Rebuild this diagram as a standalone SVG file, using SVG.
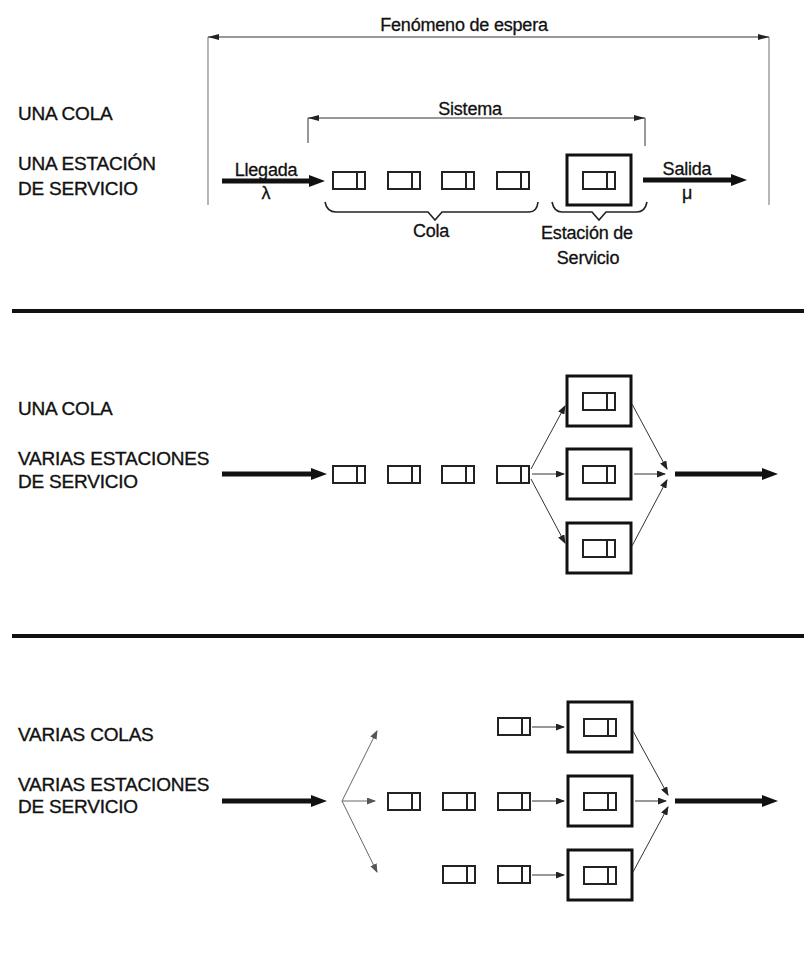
<svg xmlns="http://www.w3.org/2000/svg" width="804" height="959" viewBox="0 0 804 959">
<style>
  .lbl{font-family:"Liberation Sans",Arial,sans-serif;font-size:19px;fill:#111;stroke:#111;stroke-width:0.35;letter-spacing:-0.2px}
  .txt{font-family:"Liberation Sans",Arial,sans-serif;font-size:18px;fill:#111;stroke:#111;stroke-width:0.3;text-anchor:middle;letter-spacing:-0.2px}
  .q{fill:#fff;stroke:#222;stroke-width:2}
  .qd{stroke:#222;stroke-width:2}
  .srv{fill:#fff;stroke:#111;stroke-width:3}
  .thin{stroke:#333;stroke-width:1;fill:none}
  .faint{stroke:#666;stroke-width:1;fill:none}
  .thick{stroke:#111;stroke-width:5;fill:none}
  .dim{stroke:#333;stroke-width:1;fill:none}
  .guide{stroke:#888;stroke-width:1.2;fill:none}
  .brace{stroke:#222;stroke-width:1.6;fill:none}
  .sep{stroke:#111;stroke-width:4}
</style>
<defs>
  <marker id="ah" markerUnits="userSpaceOnUse" viewBox="0 0 9 7" refX="8" refY="3.5" markerWidth="9" markerHeight="7" orient="auto">
    <path d="M0,0 L9,3.5 L0,7 z" fill="#222"/>
  </marker>
  <marker id="ahf" markerUnits="userSpaceOnUse" viewBox="0 0 9 7" refX="8" refY="3.5" markerWidth="9" markerHeight="7" orient="auto">
    <path d="M0,0 L9,3.5 L0,7 z" fill="#555"/>
  </marker>
  <marker id="big" markerUnits="userSpaceOnUse" viewBox="0 0 16 12" refX="4" refY="6" markerWidth="16" markerHeight="12" orient="auto">
    <path d="M0,0 L16,6 L0,12 z" fill="#111"/>
  </marker>
  <marker id="da" markerUnits="userSpaceOnUse" viewBox="0 0 11 6" refX="11" refY="3" markerWidth="11" markerHeight="6" orient="auto-start-reverse">
    <path d="M0,0 L11,3 L0,6 z" fill="#222"/>
  </marker>
</defs>

<!-- Section 1 labels -->
<g id="labels1">
  <text class="lbl" x="18" y="120">UNA COLA</text>
  <text class="lbl" x="18" y="170">UNA ESTACIÓN</text>
  <text class="lbl" x="18" y="195">DE SERVICIO</text>
</g>

<g id="dimensions">
  <line class="guide" x1="208" y1="37" x2="208" y2="205"/>
  <line class="guide" x1="769" y1="37" x2="769" y2="205"/>
  <line class="dim" x1="208" y1="37" x2="769" y2="37" marker-start="url(#da)" marker-end="url(#da)"/>
  <text class="txt" x="464" y="31">Fenómeno de espera</text>
  <line class="dim" x1="308" y1="118" x2="308" y2="143"/>
  <line class="dim" x1="645" y1="118" x2="645" y2="146"/>
  <line class="dim" x1="308" y1="118" x2="645" y2="118" marker-start="url(#da)" marker-end="url(#da)"/>
  <text class="txt" x="470" y="115">Sistema</text>
</g>

<g id="q1">
  <rect class="q" x="333" y="172" width="32" height="17"/><line class="qd" x1="357" y1="172" x2="357" y2="189"/>
  <rect class="q" x="388" y="172" width="32" height="17"/><line class="qd" x1="412" y1="172" x2="412" y2="189"/>
  <rect class="q" x="442" y="172" width="32" height="17"/><line class="qd" x1="466" y1="172" x2="466" y2="189"/>
  <rect class="q" x="497" y="172" width="32" height="17"/><line class="qd" x1="521" y1="172" x2="521" y2="189"/>
</g>
<g id="s1">
  <rect class="srv" x="567" y="155" width="64" height="50"/>
  <rect class="q" x="583" y="172" width="32" height="17"/><line class="qd" x1="607" y1="172" x2="607" y2="189"/>
</g>
<g id="braces1">
  <path class="brace" d="M325,202 Q327,212 336,212 L428,212 L435,220 L442,212 L529,212 Q537,212 538,202"/>
  <path class="brace" d="M552,202 Q554,212 562,212 L592,212 L599,220 L606,212 L637,212 Q645,212 647,202"/>
  <text class="txt" x="431" y="237">Cola</text>
  <text class="txt" x="587" y="239">Estación de</text>
  <text class="txt" x="588" y="264">Servicio</text>
</g>
<g id="io1">
  <text class="txt" x="266" y="176">Llegada</text>
  <text class="txt" x="266" y="199">λ</text>
  <text class="txt" x="687" y="175">Salida</text>
  <text class="txt" x="687" y="199">μ</text>
</g>

<g id="separators">
  <line class="sep" x1="12" y1="311" x2="804" y2="311"/>
  <line class="sep" x1="12" y1="636" x2="804" y2="636"/>
</g>

<!-- Section 2 -->
<g id="labels2">
  <text class="lbl" x="18" y="415">UNA COLA</text>
  <text class="lbl" x="18" y="465">VARIAS ESTACIONES</text>
  <text class="lbl" x="18" y="488">DE SERVICIO</text>
</g>
<g id="q2">
  <rect class="q" x="333" y="466" width="32" height="17"/><line class="qd" x1="357" y1="466" x2="357" y2="483"/>
  <rect class="q" x="388" y="466" width="32" height="17"/><line class="qd" x1="412" y1="466" x2="412" y2="483"/>
  <rect class="q" x="442" y="466" width="32" height="17"/><line class="qd" x1="466" y1="466" x2="466" y2="483"/>
  <rect class="q" x="497" y="466" width="32" height="17"/><line class="qd" x1="521" y1="466" x2="521" y2="483"/>
</g>
<g id="s2a">
  <rect class="srv" x="567" y="376" width="64" height="50"/>
  <rect class="q" x="583" y="393" width="32" height="17"/><line class="qd" x1="607" y1="393" x2="607" y2="410"/>
</g>
<g id="s2b">
  <rect class="srv" x="567" y="449" width="64" height="50"/>
  <rect class="q" x="583" y="466" width="32" height="17"/><line class="qd" x1="607" y1="466" x2="607" y2="483"/>
</g>
<g id="s2c">
  <rect class="srv" x="567" y="523" width="64" height="50"/>
  <rect class="q" x="583" y="540" width="32" height="17"/><line class="qd" x1="607" y1="540" x2="607" y2="557"/>
</g>

<!-- Section 3 -->
<g id="labels3">
  <text class="lbl" x="18" y="741">VARIAS COLAS</text>
  <text class="lbl" x="18" y="791">VARIAS ESTACIONES</text>
  <text class="lbl" x="18" y="813">DE SERVICIO</text>
</g>
<g id="q3a">
  <rect class="q" x="498" y="718" width="32" height="17"/><line class="qd" x1="522" y1="718" x2="522" y2="735"/>
</g>
<g id="q3b">
  <rect class="q" x="388" y="793" width="32" height="17"/><line class="qd" x1="412" y1="793" x2="412" y2="810"/>
  <rect class="q" x="443" y="793" width="32" height="17"/><line class="qd" x1="467" y1="793" x2="467" y2="810"/>
  <rect class="q" x="498" y="793" width="32" height="17"/><line class="qd" x1="522" y1="793" x2="522" y2="810"/>
</g>
<g id="q3c">
  <rect class="q" x="443" y="866" width="32" height="17"/><line class="qd" x1="467" y1="866" x2="467" y2="883"/>
  <rect class="q" x="498" y="866" width="32" height="17"/><line class="qd" x1="522" y1="866" x2="522" y2="883"/>
</g>
<g id="s3a">
  <rect class="srv" x="568" y="702" width="64" height="50"/>
  <rect class="q" x="584" y="719" width="32" height="17"/><line class="qd" x1="608" y1="719" x2="608" y2="736"/>
</g>
<g id="s3b">
  <rect class="srv" x="568" y="776" width="64" height="50"/>
  <rect class="q" x="584" y="793" width="32" height="17"/><line class="qd" x1="608" y1="793" x2="608" y2="810"/>
</g>
<g id="s3c">
  <rect class="srv" x="568" y="850" width="64" height="50"/>
  <rect class="q" x="584" y="867" width="32" height="17"/><line class="qd" x1="608" y1="867" x2="608" y2="884"/>
</g>

<g id="connectors">
  <!-- section 1 -->
  <line class="thick" x1="222" y1="181" x2="313" y2="181" marker-end="url(#big)"/>
  <line class="thick" x1="643" y1="180" x2="735" y2="180" marker-end="url(#big)"/>
  <!-- section 2 -->
  <line class="thick" x1="222" y1="474" x2="315" y2="474" marker-end="url(#big)"/>
  <line class="thin" x1="531" y1="469" x2="565" y2="406" marker-end="url(#ah)"/>
  <line class="thin" x1="532" y1="474" x2="564" y2="474" marker-end="url(#ah)"/>
  <line class="thin" x1="531" y1="479" x2="565" y2="543" marker-end="url(#ah)"/>
  <line class="thin" x1="632" y1="404" x2="667" y2="469" marker-end="url(#ah)"/>
  <line class="thin" x1="634" y1="474" x2="665" y2="474" marker-end="url(#ah)"/>
  <line class="thin" x1="632" y1="546" x2="667" y2="480" marker-end="url(#ah)"/>
  <line class="thick" x1="675" y1="474" x2="766" y2="474" marker-end="url(#big)"/>
  <!-- section 3 -->
  <line class="thick" x1="222" y1="801" x2="315" y2="801" marker-end="url(#big)"/>
  <line class="faint" x1="342" y1="801" x2="377" y2="731" marker-end="url(#ahf)"/>
  <line class="faint" x1="342" y1="801" x2="375" y2="801" marker-end="url(#ahf)"/>
  <line class="faint" x1="342" y1="801" x2="377" y2="872" marker-end="url(#ahf)"/>
  <line class="thin" x1="532" y1="727" x2="564" y2="727" marker-end="url(#ah)"/>
  <line class="thin" x1="532" y1="801" x2="564" y2="801" marker-end="url(#ah)"/>
  <line class="thin" x1="532" y1="875" x2="564" y2="875" marker-end="url(#ah)"/>
  <line class="thin" x1="633" y1="731" x2="668" y2="795" marker-end="url(#ah)"/>
  <line class="thin" x1="635" y1="801" x2="666" y2="801" marker-end="url(#ah)"/>
  <line class="thin" x1="633" y1="872" x2="668" y2="807" marker-end="url(#ah)"/>
  <line class="thick" x1="675" y1="801" x2="766" y2="801" marker-end="url(#big)"/>
</g>
</svg>
